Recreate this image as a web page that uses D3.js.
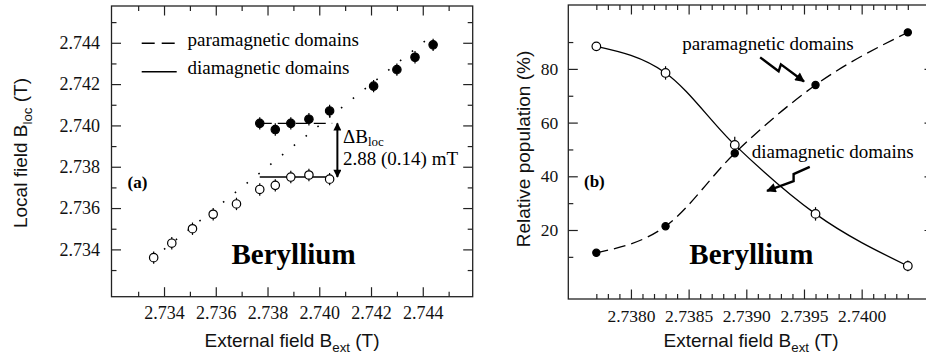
<!DOCTYPE html>
<html>
<head>
<meta charset="utf-8">
<script src="https://cdn.jsdelivr.net/npm/d3@7"></script>
<style>
  body { margin: 0; background: #fff; }
  svg { display: block; }
  .serif { font-family: "Liberation Serif", "Times New Roman", serif; }
  .sans { font-family: "Liberation Sans", Arial, sans-serif; }
  .tick line { stroke: #222; stroke-width: 1.2; }
  .tick text { fill: #111; }
</style>
</head>
<body>
<script>
const width = 926;
const height = 356;

// ---- panel (a) data ----
const bextOpen = [2.7336, 2.7343, 2.7351, 2.7359, 2.7368, 2.7377, 2.7383, 2.7389, 2.7396, 2.7404];
const blocOpen = [2.7336, 2.7343, 2.7350, 2.7357, 2.7362, 2.7369, 2.7371, 2.7375, 2.7376, 2.7374];
const bextFilled = [2.7377, 2.7383, 2.7389, 2.7396, 2.7404, 2.7421, 2.7430, 2.7437, 2.7444];
const blocFilled = [2.7401, 2.7398, 2.7401, 2.7403, 2.7407, 2.7419, 2.7427, 2.7433, 2.7439];
const blocErr = 0.0003;
const diagonal = [2.7340, 2.7442];
const meanRange = [2.7377, 2.7405];
const paraMean = 2.7401;
const diaMean = 2.7375;
const deltaX = 2.7407;
const aMajor = [2.734, 2.736, 2.738, 2.740, 2.742, 2.744];
const aMinor = [2.733, 2.735, 2.737, 2.739, 2.741, 2.743, 2.745];

// ---- panel (b) data ----
const bextB = [2.7377, 2.7383, 2.7389, 2.7396, 2.7404];
const popDia = [88.4, 78.5, 51.7, 26.0, 6.6];
const popPara = [11.5, 21.4, 48.6, 74.0, 93.6];
const errDia = [0.6, 2.5, 3.0, 2.5, 2.0];
const errPara = [0.5, 0.8, 1.2, 0.8, 0.5];
const bxMajor = [2.7380, 2.7385, 2.7390, 2.7395, 2.7400];
const bxMinor = d3.range(27377, 27405).filter(v => v % 5 !== 0).map(v => v / 10000);
const byMajor = [20, 40, 60, 80];
const byMinor = [10, 30, 50, 70, 90];
// lightning arrows (data units of panel b)
const arrowPara = [[2.73912, 84.3], [2.73928, 79.1], [2.73930, 81.7], [2.73950, 75.3]];
const arrowDia = [[2.73955, 43.5], [2.73941, 40.8], [2.73941, 38.2], [2.73918, 34.6]];

const svg = d3.select("body")
  .append("svg")
  .attr("width", width)
  .attr("height", height);

const defs = svg.append("defs");
defs.append("marker")
  .attr("id", "arrow")
  .attr("viewBox", "0 0 10 10")
  .attr("refX", 9)
  .attr("refY", 5)
  .attr("markerWidth", 4.5)
  .attr("markerHeight", 4)
  .attr("orient", "auto-start-reverse")
  .append("path")
  .attr("d", "M0,0 L10,5 L0,10 z")
  .attr("fill", "#000");

function frame(x, y, xMajor, xMinor, yMajor, yMinor, xFmt, yFmt, xPad, yPad, fs) {
  const [x0, x1] = x.range();
  const [y0, y1] = y.range();
  const g = svg.append("g");
  // bottom
  g.append("g").attr("class", "serif").attr("transform", `translate(0,${y0})`)
    .call(d3.axisBottom(x).tickValues(xMajor).tickSize(-9.5).tickSizeOuter(0).tickPadding(xPad).tickFormat(xFmt))
    .call(a => a.selectAll("text").style("font-size", fs + "px"));
  g.append("g").attr("transform", `translate(0,${y0})`)
    .call(d3.axisBottom(x).tickValues(xMinor).tickSize(-5).tickSizeOuter(0).tickFormat(""));
  // top
  g.append("g").attr("transform", `translate(0,${y1})`)
    .call(d3.axisTop(x).tickValues(xMajor).tickSize(-9.5).tickSizeOuter(0).tickFormat(""));
  g.append("g").attr("transform", `translate(0,${y1})`)
    .call(d3.axisTop(x).tickValues(xMinor).tickSize(-5).tickSizeOuter(0).tickFormat(""));
  // left
  g.append("g").attr("class", "serif").attr("transform", `translate(${x0},0)`)
    .call(d3.axisLeft(y).tickValues(yMajor).tickSize(-9.5).tickSizeOuter(0).tickPadding(yPad).tickFormat(yFmt))
    .call(a => a.selectAll("text").style("font-size", fs + "px"));
  g.append("g").attr("transform", `translate(${x0},0)`)
    .call(d3.axisLeft(y).tickValues(yMinor).tickSize(-5).tickSizeOuter(0).tickFormat(""));
  // right
  g.append("g").attr("transform", `translate(${x1},0)`)
    .call(d3.axisRight(y).tickValues(yMajor).tickSize(-9.5).tickSizeOuter(0).tickFormat(""));
  g.append("g").attr("transform", `translate(${x1},0)`)
    .call(d3.axisRight(y).tickValues(yMinor).tickSize(-5).tickSizeOuter(0).tickFormat(""));
  g.selectAll(".domain").remove();
  g.selectAll("g").attr("font-family", null).attr("font-size", null);
  g.append("rect")
    .attr("x", x0).attr("y", y1)
    .attr("width", x1 - x0).attr("height", y0 - y1)
    .attr("fill", "none").attr("stroke", "#222").attr("stroke-width", 1.3);
  return g;
}

function subLabel(g, main, sub, rest, fs) {
  const t = g.append("text").attr("class", "sans").attr("text-anchor", "middle")
    .style("font-size", fs + "px").attr("fill", "#111");
  t.append("tspan").text(main);
  t.append("tspan").attr("dy", fs * 0.28).style("font-size", (fs * 0.7) + "px").text(sub);
  t.append("tspan").attr("dy", -fs * 0.28).text(rest);
  return t;
}

function errorBars(xs, ys, err, x, y) {
  svg.append("g").selectAll("line")
    .data(xs.map((v, i) => [v, ys[i], Array.isArray(err) ? err[i] : err]))
    .enter()
    .append("line")
    .attr("x1", d => x(d[0])).attr("x2", d => x(d[0]))
    .attr("y1", d => y(d[1] - d[2])).attr("y2", d => y(d[1] + d[2]))
    .attr("stroke", "#000").attr("stroke-width", 1.2);
}

function points(xs, ys, x, y, r, open) {
  svg.append("g").selectAll("circle")
    .data(xs.map((v, i) => [v, ys[i]]))
    .enter()
    .append("circle")
    .attr("cx", d => x(d[0])).attr("cy", d => y(d[1]))
    .attr("r", r)
    .attr("fill", open ? "#fff" : "#000")
    .attr("stroke", "#000").attr("stroke-width", 1.2);
}

// ================= panel (a) =================
const xA = d3.scaleLinear().domain([2.73197, 2.74593]).range([111.5, 472.7]);
const yA = d3.scaleLinear().domain([2.73171, 2.74578]).range([296.7, 6]);

frame(xA, yA, aMajor, aMinor, aMajor, aMinor, d3.format(".3f"), d3.format(".3f"), 9.5, 11.5, 18);

// y = x dotted guide
svg.append("path")
  .datum(diagonal)
  .attr("d", d3.line().x(d => xA(d)).y(d => yA(d)))
  .attr("fill", "none").attr("stroke", "#000").attr("stroke-width", 1.6)
  .attr("stroke-dasharray", "1.6,13.5");

// mean levels
svg.append("path")
  .datum(meanRange)
  .attr("d", d3.line().x(d => xA(d)).y(() => yA(paraMean)))
  .attr("fill", "none").attr("stroke", "#000").attr("stroke-width", 1.4)
  .attr("stroke-dasharray", "12,6");
svg.append("path")
  .datum(meanRange)
  .attr("d", d3.line().x(d => xA(d)).y(() => yA(diaMean)))
  .attr("fill", "none").attr("stroke", "#000").attr("stroke-width", 1.4);

errorBars(bextOpen, blocOpen, blocErr, xA, yA);
errorBars(bextFilled, blocFilled, blocErr, xA, yA);
points(bextOpen, blocOpen, xA, yA, 4.2, true);
points(bextFilled, blocFilled, xA, yA, 4.2, false);

// delta B double arrow
svg.append("line")
  .attr("x1", xA(deltaX)).attr("x2", xA(deltaX))
  .attr("y1", yA(paraMean)).attr("y2", yA(diaMean))
  .attr("stroke", "#000").attr("stroke-width", 2)
  .attr("marker-start", "url(#arrow)").attr("marker-end", "url(#arrow)");

const dText = svg.append("text").attr("class", "serif")
  .attr("x", 343).attr("y", 142.5).style("font-size", "19px");
dText.append("tspan").text("\u0394B");
dText.append("tspan").attr("dy", 3.5).style("font-size", "13px").text("loc");
svg.append("text").attr("class", "serif")
  .attr("x", 343).attr("y", 165).style("font-size", "19px")
  .text("2.88 (0.14) mT");

// legend
svg.append("line").attr("x1", 141.7).attr("x2", 175.5).attr("y1", 43.3).attr("y2", 43.3)
  .attr("stroke", "#000").attr("stroke-width", 1.4).attr("stroke-dasharray", "13,7");
svg.append("line").attr("x1", 141.7).attr("x2", 176.7).attr("y1", 71.7).attr("y2", 71.7)
  .attr("stroke", "#000").attr("stroke-width", 1.4);
svg.append("text").attr("class", "serif").attr("x", 187.5).attr("y", 45.5)
  .style("font-size", "19px").text("paramagnetic domains");
svg.append("text").attr("class", "serif").attr("x", 187.5).attr("y", 74)
  .style("font-size", "19px").text("diamagnetic domains");

svg.append("text").attr("class", "serif").attr("x", 127.5).attr("y", 187.5)
  .style("font-size", "17px").style("font-weight", "bold").text("(a)");
svg.append("text").attr("class", "serif").attr("x", 231.5).attr("y", 264)
  .style("font-size", "29px").style("font-weight", "bold").text("Beryllium");

subLabel(svg.append("g").attr("transform", "translate(292,347)"), "External field B", "ext", " (T)", 19);
subLabel(svg.append("g").attr("transform", "translate(27,153) rotate(-90)"), "Local field B", "loc", " (T)", 19);

// ================= panel (b) =================
const xB = d3.scaleLinear().domain([2.737457, 2.740627]).range([568.3, 934]);
const yB = d3.scaleLinear().domain([-5.7, 103.8]).range([299, 5]);

frame(xB, yB, bxMajor, bxMinor, byMajor, byMinor, d3.format(".4f"), d3.format("d"), 11, 10, 17.5);

const curve = d3.line().curve(d3.curveMonotoneX).x(d => xB(d[0])).y(d => yB(d[1]));
svg.append("path")
  .datum(bextB.map((v, i) => [v, popDia[i]]))
  .attr("d", curve)
  .attr("fill", "none").attr("stroke", "#000").attr("stroke-width", 1.3);
svg.append("path")
  .datum(bextB.map((v, i) => [v, popPara[i]]))
  .attr("d", curve)
  .attr("fill", "none").attr("stroke", "#000").attr("stroke-width", 1.3)
  .attr("stroke-dasharray", "12,6");

errorBars(bextB, popDia, errDia, xB, yB);
errorBars(bextB, popPara, errPara, xB, yB);
points(bextB, popDia, xB, yB, 4.3, true);
points(bextB, popPara, xB, yB, 3.6, false);

const zig = d3.line().x(d => xB(d[0])).y(d => yB(d[1]));
[arrowPara, arrowDia].forEach(function(a) {
  svg.append("path")
    .datum(a)
    .attr("d", zig)
    .attr("fill", "none").attr("stroke", "#000").attr("stroke-width", 2.4)
    .attr("stroke-linejoin", "miter")
    .attr("marker-end", "url(#arrow)");
});

svg.append("text").attr("class", "serif").attr("x", 682.3).attr("y", 50)
  .style("font-size", "19px").text("paramagnetic domains");
svg.append("text").attr("class", "serif").attr("x", 751.7).attr("y", 157.5)
  .style("font-size", "19px").text("diamagnetic domains");

svg.append("text").attr("class", "serif").attr("x", 584).attr("y", 187)
  .style("font-size", "17px").style("font-weight", "bold").text("(b)");
svg.append("text").attr("class", "serif").attr("x", 689.3).attr("y", 264)
  .style("font-size", "29px").style("font-weight", "bold").text("Beryllium");

subLabel(svg.append("g").attr("transform", "translate(751,347)"), "External field B", "ext", " (T)", 19);
subLabel(svg.append("g").attr("transform", "translate(530,149) rotate(-90)"), "Relative population (%)", "", "", 19);
</script>
</body>
</html>
